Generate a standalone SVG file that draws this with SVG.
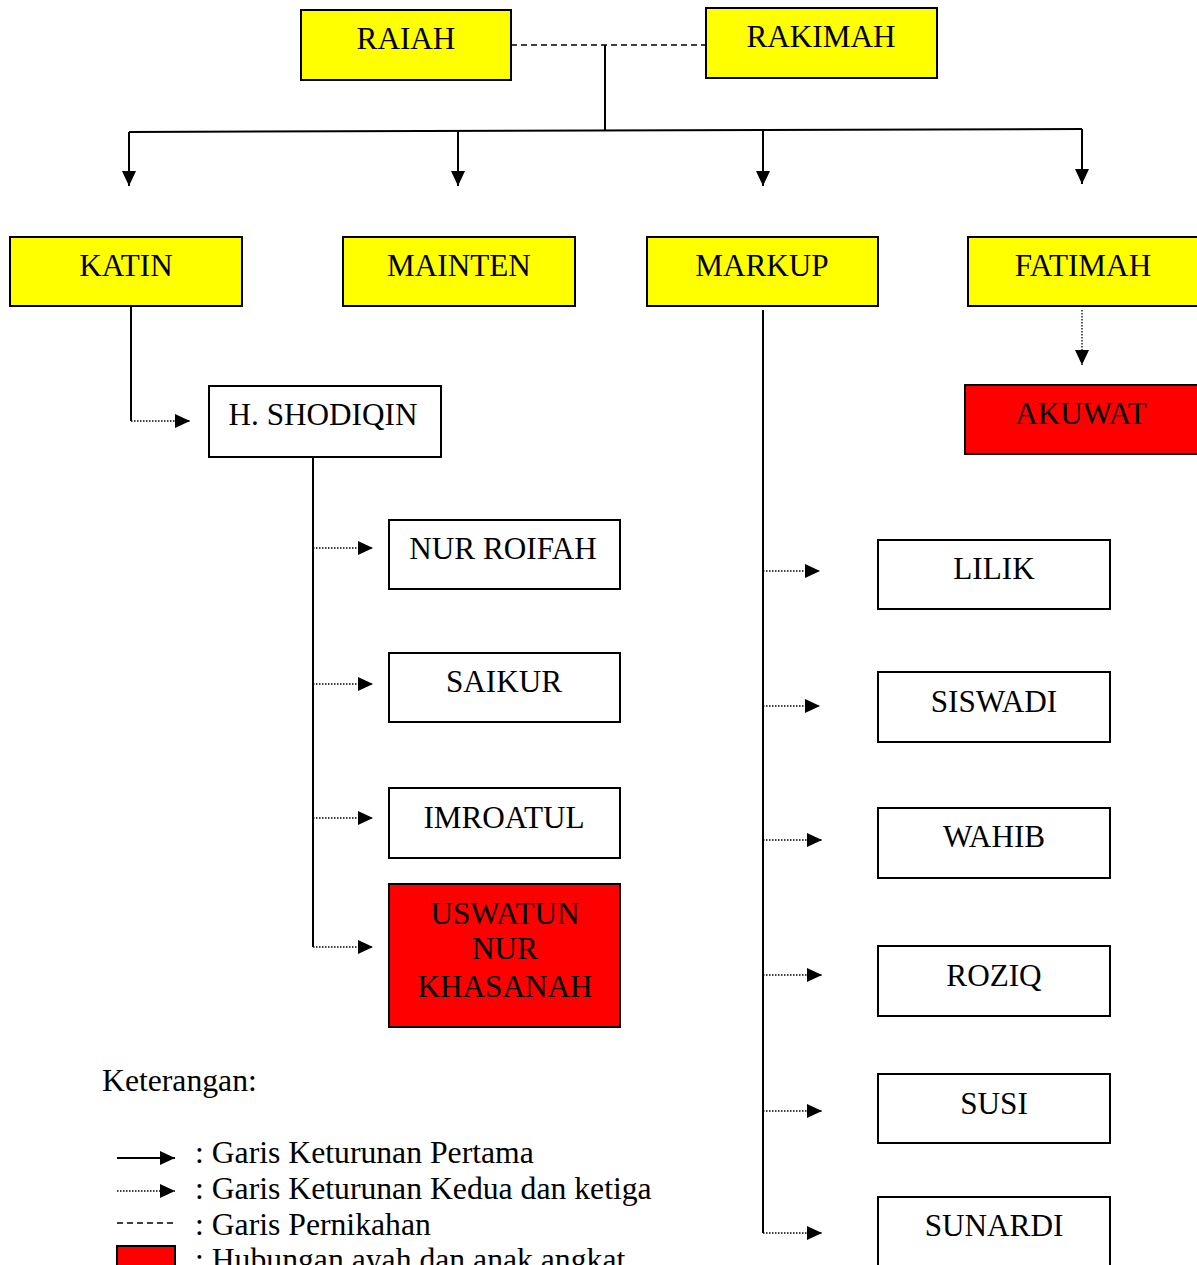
<svg xmlns="http://www.w3.org/2000/svg" width="1197" height="1265" viewBox="0 0 1197 1265">
<style>
text{font-family:"Liberation Serif","Times New Roman",serif;font-size:31.2px;fill:#000}
.n text{text-anchor:middle}
#legend text{font-size:31.7px}
.y{fill:#ffff00;stroke:#000;stroke-width:2}
.r{fill:#ff0000;stroke:#000;stroke-width:2}
.w{fill:#fff;stroke:#000;stroke-width:2}
.solid{stroke:#000;stroke-width:2;fill:none}
.dot{stroke:#000;stroke-width:1.3;stroke-dasharray:1.5 1.5;fill:none}
.dash{stroke:#000;stroke-width:1.5;stroke-dasharray:6 4;fill:none}
</style>
<defs>
<marker id="ah" markerUnits="userSpaceOnUse" markerWidth="16" markerHeight="16" refX="15" refY="7" orient="auto">
<path d="M0,0 L15,7 L0,14 Z" fill="#000"/>
</marker>
</defs>
<g id="connectors">
<path class="dash" d="M511,45 H706"/>
<path class="solid" d="M605,45 V130"/>
<path class="solid" d="M129,132 L1082,129"/>
<path class="solid" d="M129,132 V186" marker-end="url(#ah)"/>
<path class="solid" d="M458,131 V186" marker-end="url(#ah)"/>
<path class="solid" d="M763,130 V186" marker-end="url(#ah)"/>
<path class="solid" d="M1082,129 V184" marker-end="url(#ah)"/>
<path class="solid" d="M131,306 V421"/>
<path class="dot" d="M131,421 H190" marker-end="url(#ah)"/>
<path class="solid" d="M313,457 V947"/>
<path class="dot" d="M313,548 H373" marker-end="url(#ah)"/>
<path class="dot" d="M313,684 H373" marker-end="url(#ah)"/>
<path class="dot" d="M313,818 H373" marker-end="url(#ah)"/>
<path class="dot" d="M313,947 H373" marker-end="url(#ah)"/>
<path class="solid" d="M763,310 V1233"/>
<path class="dot" d="M763,571 H820" marker-end="url(#ah)"/>
<path class="dot" d="M763,706 H820" marker-end="url(#ah)"/>
<path class="dot" d="M763,840 H822" marker-end="url(#ah)"/>
<path class="dot" d="M763,975 H822" marker-end="url(#ah)"/>
<path class="dot" d="M763,1111 H822" marker-end="url(#ah)"/>
<path class="dot" d="M763,1233 H822" marker-end="url(#ah)"/>
<path class="dot" d="M1082,310 V365" marker-end="url(#ah)"/>
</g>
<g class="n">
<g id="raiah"><rect class="y" x="301" y="10" width="210" height="70"/><text x="406" y="49">RAIAH</text></g>
<g id="rakimah"><rect class="y" x="706" y="8" width="231" height="70"/><text x="821" y="47">RAKIMAH</text></g>
<g id="katin"><rect class="y" x="10" y="237" width="232" height="69"/><text x="126" y="276">KATIN</text></g>
<g id="mainten"><rect class="y" x="343" y="237" width="232" height="69"/><text x="459" y="276">MAINTEN</text></g>
<g id="markup"><rect class="y" x="647" y="237" width="231" height="69"/><text x="762" y="276">MARKUP</text></g>
<g id="fatimah"><rect class="y" x="968" y="237" width="240" height="69"/><text x="1083" y="276">FATIMAH</text></g>
<g id="akuwat"><rect class="r" x="965" y="385" width="240" height="69"/><text x="1081" y="424">AKUWAT</text></g>
<g id="shodiqin"><rect class="w" x="209" y="386" width="232" height="71"/><text x="323" y="425">H. SHODIQIN</text></g>
<g id="nurroifah"><rect class="w" x="389" y="520" width="231" height="69"/><text x="503" y="559">NUR ROIFAH</text></g>
<g id="saikur"><rect class="w" x="389" y="653" width="231" height="69"/><text x="504" y="692">SAIKUR</text></g>
<g id="imroatul"><rect class="w" x="389" y="788" width="231" height="70"/><text x="504" y="828">IMROATUL</text></g>
<g id="uswatun"><rect class="r" x="389" y="884" width="231" height="143"/><text x="505" y="924">USWATUN</text><text x="505" y="959">NUR</text><text x="505" y="997">KHASANAH</text></g>
<g id="lilik"><rect class="w" x="878" y="540" width="232" height="69"/><text x="994" y="579">LILIK</text></g>
<g id="siswadi"><rect class="w" x="878" y="672" width="232" height="70"/><text x="994" y="712">SISWADI</text></g>
<g id="wahib"><rect class="w" x="878" y="808" width="232" height="70"/><text x="994" y="847">WAHIB</text></g>
<g id="roziq"><rect class="w" x="878" y="946" width="232" height="70"/><text x="994" y="986">ROZIQ</text></g>
<g id="susi"><rect class="w" x="878" y="1074" width="232" height="69"/><text x="994" y="1114">SUSI</text></g>
<g id="sunardi"><rect class="w" x="878" y="1197" width="232" height="80"/><text x="994" y="1236">SUNARDI</text></g>
</g>
<g id="legend">
<text x="102" y="1091">Keterangan:</text>
<path class="solid" d="M117,1158 H175" marker-end="url(#ah)"/>
<text x="195" y="1163">: Garis Keturunan Pertama</text>
<path class="dot" d="M117,1191 H175" marker-end="url(#ah)"/>
<text x="195" y="1199">: Garis Keturunan Kedua dan ketiga</text>
<path class="dash" d="M117,1223 H177"/>
<text x="195" y="1235">: Garis Pernikahan</text>
<rect class="r" x="117" y="1246" width="58" height="40"/>
<text x="195" y="1270">: Hubungan ayah dan anak angkat</text>
</g>
</svg>
